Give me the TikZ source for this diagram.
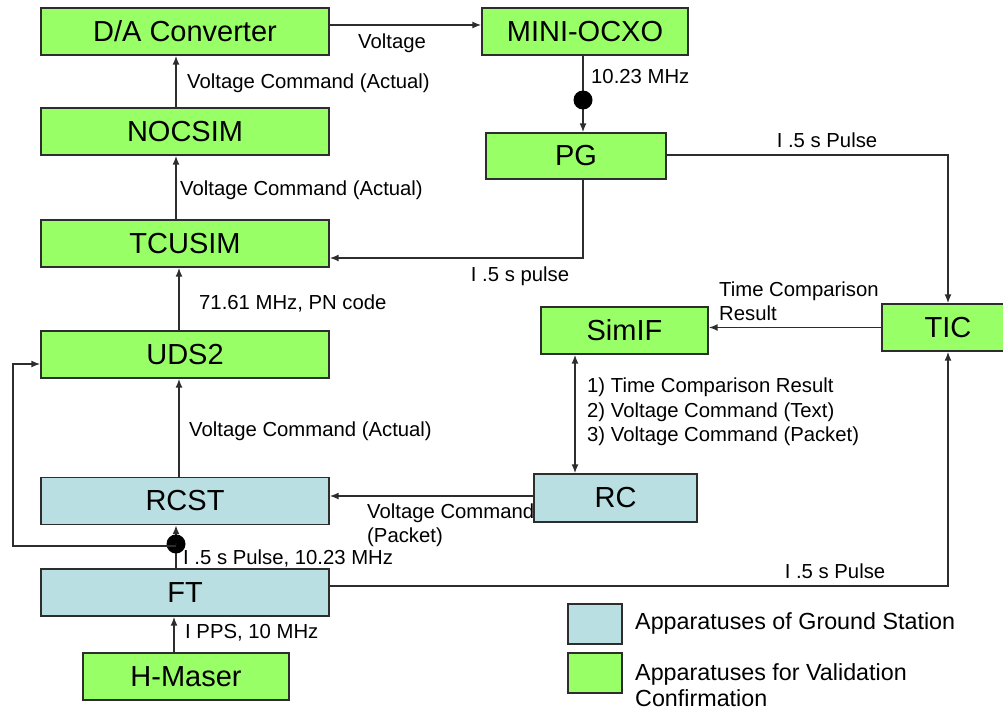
\documentclass[tikz,border=0pt]{standalone}
\usepackage{fontspec}
\setmainfont{Liberation Sans}
\usetikzlibrary{arrows.meta}
\definecolor{boxgreen}{RGB}{153,255,102}
\definecolor{boxblue}{RGB}{185,223,226}
\definecolor{linegray}{RGB}{45,45,45}
\begin{document}
\begin{tikzpicture}[x=1pt,y=-1pt,
  box/.style={draw=linegray, line width=1.4pt, inner sep=0pt, font=\fontsize{29}{34}\selectfont},
  greenbox/.style={box, fill=boxgreen},
  bluebox/.style={box, fill=boxblue},
  arr/.style={draw=linegray, line width=1.5pt, -{Latex[length=9pt,width=7pt]}},
  dblarr/.style={draw=linegray, line width=1.5pt, {Latex[length=9pt,width=7pt]}-{Latex[length=9pt,width=7pt]}},
  lbl/.style={font=\fontsize{20.3}{24.5}\selectfont, inner sep=0pt, align=left},
  leg/.style={font=\fontsize{23.3}{26}\selectfont, inner sep=0pt, align=left},
  junction/.style={circle, fill=black, inner sep=0pt, minimum size=19pt}
]
\useasboundingbox (0,0) rectangle (1003,712);

% boxes
\node[greenbox, minimum width=288pt, minimum height=47pt] (da) at (185,31.5) {D/A Converter};
\node[greenbox, minimum width=288pt, minimum height=47pt] (nocsim) at (185,131.5) {NOCSIM};
\node[greenbox, minimum width=288pt, minimum height=47pt] (tcusim) at (185,243.5) {TCUSIM};
\node[greenbox, minimum width=288pt, minimum height=47pt] (uds2) at (185,354.5) {UDS2};
\node[bluebox, minimum width=288pt, minimum height=47pt] (rcst) at (185,501) {RCST};
\node[bluebox, minimum width=288pt, minimum height=47pt] (ft) at (185,592.5) {FT};
\node[greenbox, minimum width=206pt, minimum height=47pt] (hmaser) at (186,676.5) {H-Maser};
\node[greenbox, minimum width=206pt, minimum height=47pt] (ocxo) at (585,31.5) {MINI-OCXO};
\node[greenbox, minimum width=180pt, minimum height=46pt] (pg) at (576,156) {PG};
\node[greenbox, minimum width=167pt, minimum height=47pt] (simif) at (624.5,330.5) {SimIF};
\node[greenbox, minimum width=132pt, minimum height=47pt] (tic) at (948,327.5) {TIC};
\node[bluebox, minimum width=163pt, minimum height=48pt] (rc) at (615.5,498) {RC};

% legend
\node[bluebox, minimum width=54pt, minimum height=40pt] (legb) at (595,624) {};
\node[greenbox, minimum width=54pt, minimum height=40pt] (legg) at (595,673) {};
\node[leg, anchor=west] (legbt) at (635,623) {Apparatuses of Ground Station};
\node[leg, anchor=west] (leggt) at (635,685) {Apparatuses for Validation\\Confirmation};

% helper coordinates
\coordinate (c583) at (583,0);
\coordinate (c575) at (575,0);
\coordinate (c174) at (174,0);
\coordinate (c176) at (176,0);
\coordinate (c179) at (179,0);
\coordinate (bendL) at (13,546);
\coordinate (jft) at (176,546);

% connectors
\draw[arr] ([yshift=6.5pt]da.east) -- ([yshift=6.5pt]da.east -| ocxo.west);
\node[lbl] (lvolt) at (392,43) {Voltage};

\draw[arr] (c176 |- nocsim.north) -- (c176 |- da.south);
\node[lbl, anchor=west] (l1) at (187,83) {Voltage Command (Actual)};

\draw[arr] (c176 |- tcusim.north) -- (c176 |- nocsim.south);
\node[lbl, anchor=west] (l2) at (180,190) {Voltage Command (Actual)};

\draw[arr] (c179 |- uds2.north) -- (c179 |- tcusim.south);
\node[lbl, anchor=west] (l3) at (199,303) {71.61 MHz, PN code};

\draw[arr] (c179 |- rcst.north) -- (c179 |- uds2.south);
\node[lbl, anchor=west] (l4) at (189,431) {Voltage Command (Actual)};

\draw[arr] (c583 |- ocxo.south) -- (c583 |- pg.north);
\node[junction] (j1) at (583,100) {};
\node[lbl, anchor=west] (l5) at (591,77) {10.23 MHz};

\draw[arr] ([yshift=1pt]pg.east) -| (tic.north);
\node[lbl] (l6) at (827,140) {I .5 s Pulse};

\draw[arr] (c583 |- pg.south) |- ([yshift=-14.5pt]tcusim.east);
\node[lbl] (l7) at (520,276) {I .5 s pulse};

\draw[arr] (tic.west) -- (tic.west -| simif.east);
\node[lbl, anchor=west] (l8) at (719,301) {Time Comparison\\Result};

\draw[dblarr] (c575 |- simif.south) -- (c575 |- rc.north);
\node[lbl, anchor=west] (l9) at (587,412) {1) Time Comparison Result\\2) Voltage Command (Text)\\3) Voltage Command (Packet)};

\draw[arr] ([yshift=2pt]rc.west) -- ([yshift=2pt]rc.west -| rcst.east);
\node[lbl, anchor=west] (l10) at (367,525) {Voltage Command\\(Packet)};

\draw[arr] (c176 |- ft.north) -- (c176 |- rcst.south);
\node[junction] (j2) at (176,544) {};
\node[lbl, anchor=west] (l11) at (183,558) {I .5 s Pulse, 10.23 MHz};

\draw[arr] (jft) -- (bendL) |- ([yshift=-9.5pt]uds2.west);

\draw[arr] ([yshift=6.5pt]ft.east) -| (tic.south);
\node[lbl] (l12) at (835,571) {I .5 s Pulse};

\draw[arr] (c174 |- hmaser.north) -- (c174 |- ft.south);
\node[lbl, anchor=west] (l13) at (185,633) {I PPS, 10 MHz};
\end{tikzpicture}
\end{document}
